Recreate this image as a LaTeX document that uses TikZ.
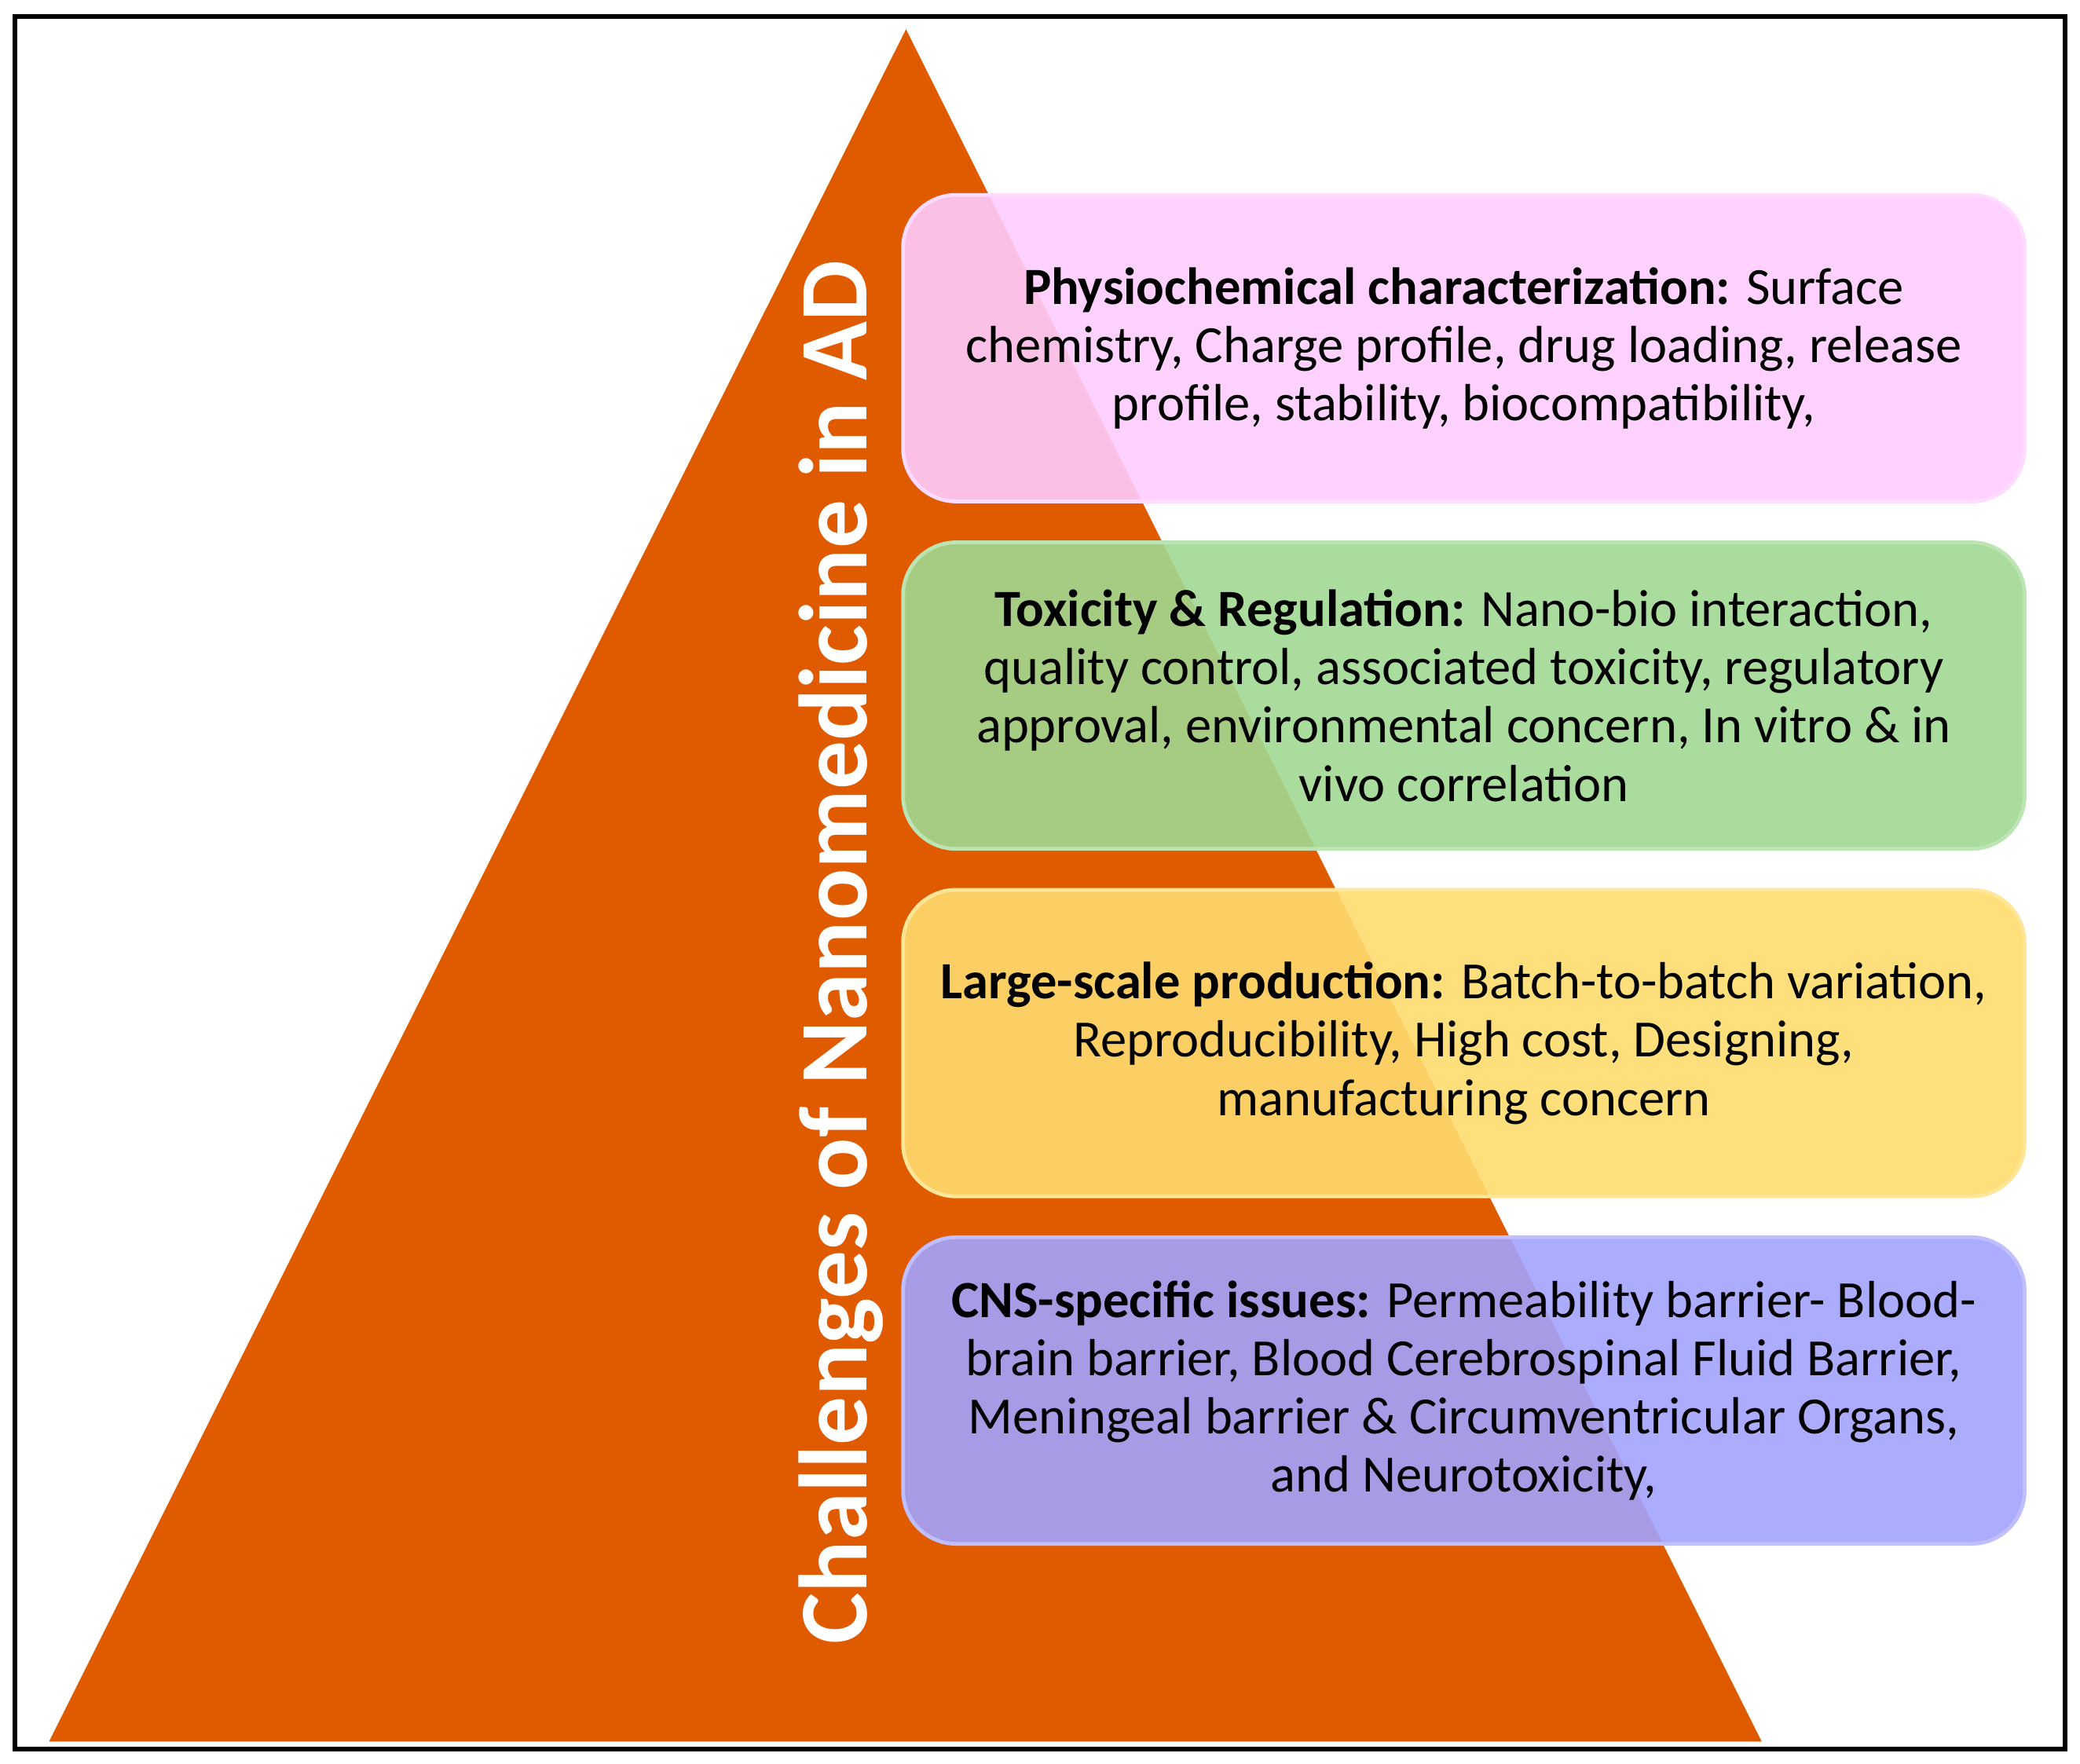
\documentclass[tikz,border=0pt]{standalone}
\usepackage{fontspec}
\setmainfont{Carlito}
\usetikzlibrary{positioning}

\definecolor{pyramidorange}{RGB}{224,90,0}
\definecolor{physpink}{RGB}{255,204,255}
\definecolor{toxgreen}{RGB}{160,216,146}
\definecolor{prodyellow}{RGB}{255,220,110}
\definecolor{cnspurple}{RGB}{163,163,255}

\begin{document}
\begin{tikzpicture}[x=0.01cm, y=-0.01cm,
  challengebox/.style={rounded corners=0.4cm, minimum width=8.45cm, minimum height=2.31cm,
    inner sep=0pt, align=center, fill opacity=0.9, text opacity=1, line width=0.8pt,
    font=\fontsize{11.2}{12.5}\selectfont},
  titletext/.style={rotate=90, text=white, inner sep=0pt,
    font=\fontsize{20.8}{24}\selectfont\bfseries},
  node distance=0.28cm]
\useasboundingbox (0,0) rectangle (1568,1329.4);

% frame
\draw[line width=1pt] (11.5,12.7) rectangle (1557,1318.5);

% pyramid
\fill[pyramidorange] (683,22) -- (1328,1313) -- (37,1313) -- cycle;

% challenge boxes
\node[challengebox, fill=physpink, draw=physpink!70!white] (phys) at (1103.5,262.5)
  {\textbf{Physiochemical characterization:} Surface\\
   chemistry, Charge profile, drug loading, release\\
   profile, stability, biocompatibility,};
\node[challengebox, fill=toxgreen, draw=toxgreen!70!white, below=of phys] (tox)
  {\textbf{Toxicity \& Regulation:} Nano-bio interaction,\\
   quality control, associated toxicity, regulatory\\
   approval, environmental concern, In vitro \& in\\
   vivo correlation};
\node[challengebox, fill=prodyellow, draw=prodyellow!70!white, below=of tox] (prod)
  {\textbf{Large-scale production:} Batch-to-batch variation,\\
   Reproducibility, High cost, Designing,\\
   manufacturing concern};
\node[challengebox, fill=cnspurple, draw=cnspurple!70!white, below=of prod] (cns)
  {\textbf{CNS-specific issues:} Permeability barrier- Blood-\\
   brain barrier, Blood Cerebrospinal Fluid Barrier,\\
   Meningeal barrier \& Circumventricular Organs,\\
   and Neurotoxicity,};

% title
\node[titletext] (title) at (634,718) {Challenges of Nanomedicine in AD};

\end{tikzpicture}
\end{document}
